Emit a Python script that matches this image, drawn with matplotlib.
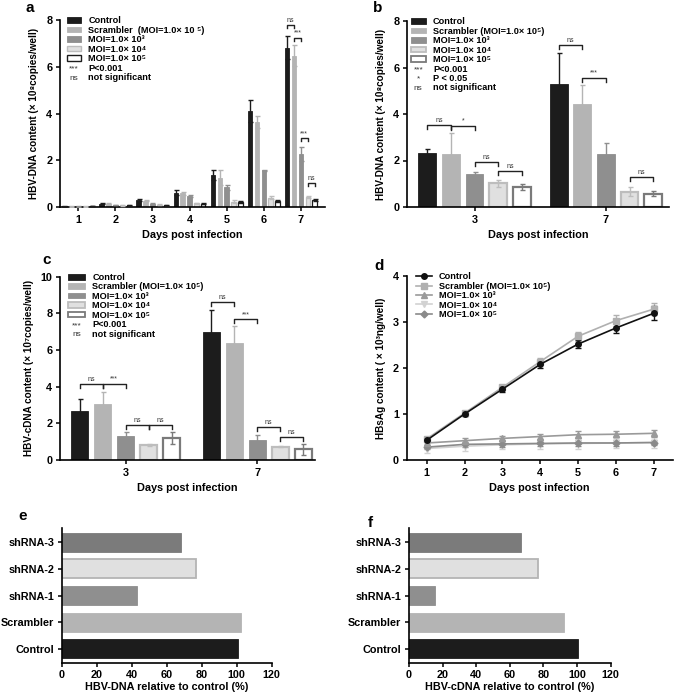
import numpy as np
import matplotlib
matplotlib.use("Agg")
import matplotlib.pyplot as plt
from matplotlib.patches import Patch
from matplotlib.lines import Line2D
from matplotlib.legend_handler import HandlerBase
from matplotlib.text import Text

plt.rcParams['font.family'] = ['Liberation Sans', 'DejaVu Sans']
plt.rcParams['font.weight'] = 'bold'
plt.rcParams['axes.labelweight'] = 'bold'
plt.rcParams['axes.linewidth'] = 1.2
plt.rcParams['xtick.major.width'] = 1.1
plt.rcParams['ytick.major.width'] = 1.1
plt.rcParams['xtick.major.size'] = 3
plt.rcParams['ytick.major.size'] = 3
plt.rcParams['xtick.major.pad'] = 2.5
plt.rcParams['ytick.major.pad'] = 2.5

# ---- data ----
series_names = ["Control", "Scrambler", "MOI=1.0e3", "MOI=1.0e4", "MOI=1.0e5"]

# panel a: HBV-DNA (x 10^8), days 1-7
days = [1, 2, 3, 4, 5, 6, 7]
a_ctrl = [0.03, 0.14, 0.29, 0.61, 1.36, 4.10, 6.82]
a_ctrl_err = [0.01, 0.03, 0.05, 0.11, 0.22, 0.46, 0.50]
a_scr = [0.02, 0.13, 0.27, 0.58, 1.25, 3.64, 6.48]
a_scr_err = [0.01, 0.02, 0.02, 0.06, 0.33, 0.27, 0.44]
a_m3 = [0.02, 0.09, 0.13, 0.47, 0.84, 1.57, 2.27]
a_m3_err = [0.01, 0.01, 0.02, 0.06, 0.12, 0.02, 0.31]
a_m4 = [0.02, 0.07, 0.10, 0.16, 0.23, 0.40, 0.43]
a_m4_err = [0.005, 0.01, 0.01, 0.02, 0.05, 0.06, 0.05]
a_m5 = [0.04, 0.07, 0.08, 0.13, 0.20, 0.26, 0.30]
a_m5_err = [0.01, 0.01, 0.02, 0.02, 0.04, 0.04, 0.04]
# (day index, bar i, bar j, height, label)
a_brackets = [(6, 0, 1, 7.79, "ns"), (6, 1, 2, 7.25, "***"),
              (6, 2, 3, 2.95, "***"), (6, 3, 4, 1.04, "ns")]

# panel b: HBV-DNA (x 10^8), days 3 and 7
bc_days = ["3", "7"]
b_ctrl = [2.34, 5.30]
b_ctrl_err = [0.15, 1.32]
b_scr = [2.30, 4.43]
b_scr_err = [0.90, 0.80]
b_m3 = [1.41, 2.28]
b_m3_err = [0.11, 0.46]
b_m4 = [1.02, 0.66]
b_m4_err = [0.15, 0.20]
b_m5 = [0.85, 0.57]
b_m5_err = [0.12, 0.10]
b_brackets = [(0, 0, 1, 3.53, "ns"), (0, 1, 2, 3.50, "*"), (0, 2, 3, 1.92, "ns"),
              (0, 3, 4, 1.55, "ns"), (1, 0, 1, 6.97, "ns"), (1, 1, 2, 5.56, "***"),
              (1, 3, 4, 1.29, "ns")]

# panel c: HBV-cDNA (x 10^7), days 3 and 7
c_ctrl = [2.65, 7.00]
c_ctrl_err = [0.70, 1.20]
c_scr = [3.08, 6.40]
c_scr_err = [0.63, 0.90]
c_m3 = [1.33, 1.07]
c_m3_err = [0.18, 0.27]
c_m4 = [0.83, 0.72]
c_m4_err = [0.04, 0.02]
c_m5 = [1.20, 0.58]
c_m5_err = [0.35, 0.30]
c_brackets = [(0, 0, 1, 4.15, "ns"), (0, 1, 2, 4.15, "***"), (0, 2, 3, 1.90, "ns"),
              (0, 3, 4, 1.90, "ns"), (1, 0, 1, 8.63, "ns"), (1, 1, 2, 7.67, "***"),
              (1, 2, 3, 1.78, "ns"), (1, 3, 4, 1.27, "ns")]

# panel d: HBsAg (x 10^3 ng/well), days 1-7
d_ctrl = [0.43, 1.00, 1.54, 2.08, 2.52, 2.87, 3.19]
d_ctrl_err = [0.03, 0.05, 0.06, 0.07, 0.09, 0.11, 0.15]
d_scr = [0.46, 1.02, 1.58, 2.14, 2.69, 3.03, 3.28]
d_scr_err = [0.05, 0.05, 0.05, 0.07, 0.10, 0.12, 0.13]
d_m3 = [0.37, 0.42, 0.47, 0.51, 0.55, 0.56, 0.58]
d_m3_err = [0.05, 0.05, 0.05, 0.05, 0.07, 0.07, 0.07]
d_m4 = [0.25, 0.30, 0.33, 0.35, 0.36, 0.37, 0.38]
d_m4_err = [0.10, 0.10, 0.10, 0.10, 0.11, 0.11, 0.11]
d_m5 = [0.28, 0.34, 0.35, 0.36, 0.37, 0.37, 0.38]
d_m5_err = [0.05, 0.06, 0.06, 0.06, 0.06, 0.06, 0.06]

# panels e/f: relative to control (%)
constructs = ["Control", "Scrambler", "shRNA-1", "shRNA-2", "shRNA-3"]
e_vals = [100.5, 102.5, 43, 76.5, 68]
f_vals = [100.5, 92, 15.5, 76.5, 66.5]

# ---- styles ----
fills = ["#1c1c1c", "#b4b4b4", "#8f8f8f", "#e0e0e0", "white"]
edges_a = ["#1c1c1c", "#b4b4b4", "#8f8f8f", "#bdbdbd", "#1c1c1c"]
edges_bc = ["#1c1c1c", "#b4b4b4", "#8f8f8f", "#bdbdbd", "#7a7a7a"]

lab_ctrl = "Control"
lab_m3 = "MOI=1.0× 10³"
lab_m4 = "MOI=1.0× 10⁴"
lab_m5 = "MOI=1.0× 10⁵"

FS_TICK = 7.8
FS_LAB = 7.8
FS_YLAB = 7.2
FS_LEG = 6.6


class Sym:
    def __init__(self, s):
        self.s = s


class SymHandler(HandlerBase):
    def create_artists(self, legend, orig_handle, xdescent, ydescent,
                       width, height, fontsize, trans):
        t = Text(width / 2 - xdescent, height / 2 - ydescent - 1, orig_handle.s,
                 ha="center", va="center", fontsize=fontsize * 0.9,
                 fontweight="normal", color="#333333", transform=trans)
        return [t]


def style_axes(ax):
    ax.spines["top"].set_visible(False)
    ax.spines["right"].set_visible(False)
    ax.tick_params(labelsize=FS_TICK)


def bar_group(ax, xs, vals, errs, step, width, edges, lws):
    xs = np.asarray(xs, dtype=float)
    for i in range(5):
        pos = xs + (i - 2) * step
        ax.bar(pos, vals[i], width, color=fills[i], edgecolor=edges[i],
               linewidth=lws[i], zorder=2)
        ax.errorbar(pos, vals[i], yerr=errs[i], fmt="none", ecolor=edges[i],
                    elinewidth=1.0, capsize=1.8, capthick=1.0, zorder=3)


def brackets(ax, xs, step, blist, hook, fs):
    for g, i, j, y, txt in blist:
        x1 = xs[g] + (i - 2) * step
        x2 = xs[g] + (j - 2) * step
        ax.plot([x1, x1, x2, x2], [y - hook, y, y, y - hook], color="#222222",
                lw=1.0, zorder=4)
        ax.text((x1 + x2) / 2, y + hook * 0.3, txt, ha="center", va="bottom",
                fontsize=fs, fontweight="normal", color="#333333")


def bar_legend(ax, scr_label, extra, edges, lws, anchor, hl):
    handles = [Patch(facecolor=fills[i], edgecolor=edges[i], linewidth=lws[i])
               for i in range(5)]
    labels = [lab_ctrl, scr_label, lab_m3, lab_m4, lab_m5]
    for sym, text in extra:
        handles.append(Sym(sym))
        labels.append(text)
    ax.legend(handles, labels, handler_map={Sym: SymHandler()}, loc="upper left",
              bbox_to_anchor=anchor, frameon=False, fontsize=FS_LEG,
              borderaxespad=0, borderpad=0, labelspacing=0.05,
              handlelength=hl, handleheight=0.55, handletextpad=0.8)


fig = plt.figure(figsize=(6.75, 6.96), dpi=100)

# ---- panel a ----
ax = fig.add_axes([60 / 675, 1 - 207 / 696, 265 / 675, 187 / 696])
a_vals = [a_ctrl, a_scr, a_m3, a_m4, a_m5]
a_errs = [a_ctrl_err, a_scr_err, a_m3_err, a_m4_err, a_m5_err]
lws_a = [0.6, 0.6, 0.6, 0.9, 0.9]
bar_group(ax, days, a_vals, a_errs, 0.185, 0.12, edges_a, lws_a)
brackets(ax, days, 0.185, a_brackets, 0.14, 5)
ax.set_xlim(0.51, 7.65)
ax.set_ylim(0, 8)
ax.set_yticks([0, 2, 4, 6, 8])
ax.set_xticks(days)
ax.set_xlabel("Days post infection", fontsize=FS_LAB, labelpad=4)
ax.set_ylabel("HBV-DNA content (× 10⁸copies/well)", fontsize=FS_YLAB, labelpad=5)
style_axes(ax)
bar_legend(ax, "Scrambler  (MOI=1.0× 10 ⁵)",
           [("***", "P<0.001"), ("ns", "not significant")],
           edges_a, [0.6, 0.6, 0.6, 1.0, 1.0], (0.025, 1.02), 1.55)

# ---- panel b ----
ax = fig.add_axes([407 / 675, 1 - 207 / 696, 262 / 675, 186 / 696])
xs_bc = np.arange(len(bc_days))
b_vals = [b_ctrl, b_scr, b_m3, b_m4, b_m5]
b_errs = [b_ctrl_err, b_scr_err, b_m3_err, b_m4_err, b_m5_err]
lws_bc = [0.6, 0.6, 0.6, 1.6, 1.6]
bar_group(ax, xs_bc, b_vals, b_errs, 0.18, 0.135, edges_bc, lws_bc)
brackets(ax, xs_bc, 0.18, b_brackets, 0.17, 5)
ax.set_xlim(-0.515, 1.48)
ax.set_ylim(0, 8)
ax.set_yticks([0, 2, 4, 6, 8])
ax.set_xticks(xs_bc)
ax.set_xticklabels(bc_days)
ax.set_xlabel("Days post infection", fontsize=FS_LAB, labelpad=4)
ax.set_ylabel("HBV-DNA content (× 10⁸copies/well)", fontsize=FS_YLAB, labelpad=5)
style_axes(ax)
bar_legend(ax, "Scrambler (MOI=1.0× 10⁵)",
           [("***", "P<0.001"), ("*", "P < 0.05"), ("ns", "not significant")],
           edges_bc, [0.6, 0.6, 0.6, 1.3, 1.3], (0.015, 1.02), 1.6)

# ---- panel c ----
ax = fig.add_axes([60 / 675, 1 - 460 / 696, 255 / 675, 183.3 / 696])
c_vals = [c_ctrl, c_scr, c_m3, c_m4, c_m5]
c_errs = [c_ctrl_err, c_scr_err, c_m3_err, c_m4_err, c_m5_err]
bar_group(ax, xs_bc, c_vals, c_errs, 0.175, 0.13, edges_bc, lws_bc)
brackets(ax, xs_bc, 0.175, c_brackets, 0.22, 5)
ax.set_xlim(-0.50, 1.44)
ax.set_ylim(0, 10)
ax.set_yticks([0, 2, 4, 6, 8, 10])
ax.set_xticks(xs_bc)
ax.set_xticklabels(bc_days)
ax.set_xlabel("Days post infection", fontsize=FS_LAB, labelpad=4)
ax.set_ylabel("HBV-cDNA content (× 10⁷copies/well)", fontsize=FS_YLAB, labelpad=5)
style_axes(ax)
bar_legend(ax, "Scrambler (MOI=1.0× 10⁵)",
           [("***", "P<0.001"), ("ns", "not significant")],
           edges_bc, [0.6, 0.6, 0.6, 1.3, 1.3], (0.03, 1.02), 1.9)

# ---- panel d ----
ax = fig.add_axes([406.7 / 675, 1 - 460 / 696, 266 / 675, 184 / 696])
d_vals = [d_ctrl, d_scr, d_m3, d_m4, d_m5]
d_errs = [d_ctrl_err, d_scr_err, d_m3_err, d_m4_err, d_m5_err]
d_colors = ["#111111", "#b0b0b0", "#9a9a9a", "#d2d2d2", "#8a8a8a"]
d_markers = ["o", "s", "^", "v", "D"]
d_msize = [4, 4, 4, 4, 3.5]
d_labels = [lab_ctrl, "Scrambler (MOI=1.0× 10⁵)", lab_m3, lab_m4, lab_m5]
for i in [3, 4, 2, 1, 0]:
    ax.errorbar(days, d_vals[i], yerr=d_errs[i], color=d_colors[i],
                marker=d_markers[i], markersize=d_msize[i], lw=1.2,
                elinewidth=1.0, capsize=2.2, capthick=1.0, label=d_labels[i])
handles = [Line2D([], [], color=d_colors[i], marker=d_markers[i],
                  markersize=d_msize[i], lw=1.2) for i in range(5)]
ax.legend(handles, d_labels, loc="upper left", bbox_to_anchor=(0.035, 1.02),
          frameon=False, fontsize=FS_LEG, borderaxespad=0, borderpad=0,
          labelspacing=0.05, handlelength=1.7, handletextpad=0.8)
ax.set_xlim(0.47, 7.5)
ax.set_ylim(0, 4)
ax.set_yticks([0, 1, 2, 3, 4])
ax.set_xticks(days)
ax.set_xlabel("Days post infection", fontsize=FS_LAB, labelpad=4)
ax.set_ylabel("HBsAg content ( × 10³ng/well)", fontsize=FS_YLAB, labelpad=5)
style_axes(ax)

# ---- panels e and f ----
rel_colors = ["#1c1c1c", "#b4b4b4", "#8f8f8f", "#e0e0e0", "#7b7b7b"]
rel_edges = ["#1c1c1c", "#b4b4b4", "#8f8f8f", "#b4b4b4", "#7b7b7b"]
rel_lw = [0.6, 0.6, 0.6, 1.3, 0.6]
panels_ef = [([61.7 / 675, 1 - 662.7 / 696, 210 / 675, 134.4 / 696], e_vals,
              "HBV-DNA relative to control (%)"),
             ([409 / 675, 1 - 662.7 / 696, 201.7 / 675, 134.4 / 696], f_vals,
              "HBV-cDNA relative to control (%)")]
for rect, vals, xlab in panels_ef:
    ax = fig.add_axes(rect)
    ypos = np.arange(len(constructs))
    ax.barh(ypos, vals, 0.71, color=rel_colors, edgecolor=rel_edges,
            linewidth=rel_lw)
    ax.set_yticks(ypos)
    ax.set_yticklabels(constructs)
    ax.set_ylim(-0.52, 4.52)
    ax.set_xlim(0, 120)
    ax.set_xticks([0, 20, 40, 60, 80, 100, 120])
    ax.set_xlabel(xlab, fontsize=FS_LAB, labelpad=1.5)
    style_axes(ax)

# panel letters
for x, y, s in [(30, 8, "a"), (378, 8, "b"), (47, 260, "c"), (379, 266, "d"),
                (23, 516, "e"), (370, 523, "f")]:
    fig.text(x / 675, 1 - y / 696, s, fontsize=11, fontweight="bold",
             ha="center", va="center")

fig.savefig("out.png", dpi=100)
